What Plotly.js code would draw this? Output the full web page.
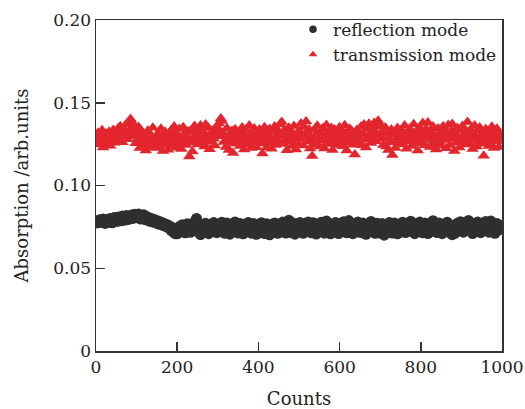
<!DOCTYPE html>
<html>
<head>
<meta charset="utf-8">
<script src="https://cdn.plot.ly/plotly-3.0.1.min.js"></script>
<style>
html,body{margin:0;padding:0;background:#fff;}
#chart{width:525px;height:409px;}
</style>
</head>
<body>
<div id="chart"></div>
<script>
// sampling step of the counts axis
const countStep = 2.5;

// reflection mode absorption (arb. units), one value per sample
const reflection = [
0.0781,0.0774,0.0788,0.0779,0.0793,0.0776,0.0785,0.0798,0.0782,0.0771,0.0790,0.0784,0.0796,0.0778,0.0801,0.0787,0.0775,0.0794,0.0806,0.0789,
0.0797,0.0783,0.0810,0.0792,0.0804,0.0787,0.0815,0.0799,0.0808,0.0791,0.0818,0.0803,0.0795,0.0812,0.0806,0.0821,0.0800,0.0814,0.0826,0.0809,
0.0819,0.0805,0.0828,0.0811,0.0797,0.0816,0.0802,0.0823,0.0808,0.0793,0.0812,0.0796,0.0786,0.0804,0.0790,0.0781,0.0798,0.0785,0.0776,0.0791,
0.0779,0.0768,0.0784,0.0772,0.0763,0.0777,0.0759,0.0770,0.0755,0.0766,0.0748,0.0761,0.0743,0.0754,0.0729,0.0745,0.0718,0.0736,0.0709,0.0724,
0.0708,0.0731,0.0752,0.0719,0.0741,0.0763,0.0727,0.0750,0.0714,0.0738,0.0769,0.0732,0.0756,0.0717,0.0745,0.0771,0.0729,0.0766,0.0784,0.0801,
0.0779,0.0735,0.0712,0.0704,0.0738,0.0758,0.0716,0.0743,0.0772,0.0726,0.0751,0.0709,0.0739,0.0765,0.0722,0.0748,0.0776,0.0731,0.0757,0.0715,
0.0744,0.0768,0.0721,0.0750,0.0778,0.0729,0.0759,0.0711,0.0746,0.0773,0.0727,0.0755,0.0706,0.0740,0.0767,0.0724,0.0752,0.0780,0.0733,0.0761,
0.0713,0.0745,0.0771,0.0726,0.0757,0.0708,0.0739,0.0766,0.0720,0.0749,0.0777,0.0731,0.0760,0.0712,0.0742,0.0770,0.0723,0.0754,0.0705,0.0737,
0.0763,0.0716,0.0748,0.0775,0.0730,0.0758,0.0710,0.0741,0.0769,0.0722,0.0751,0.0702,0.0735,0.0764,0.0718,0.0746,0.0774,0.0728,0.0756,0.0711,
0.0740,0.0768,0.0719,0.0750,0.0779,0.0732,0.0761,0.0713,0.0743,0.0782,0.0790,0.0754,0.0715,0.0747,0.0773,0.0725,0.0706,0.0742,0.0769,0.0721,
0.0752,0.0776,0.0727,0.0758,0.0711,0.0744,0.0771,0.0723,0.0753,0.0780,0.0734,0.0762,0.0714,0.0746,0.0775,0.0726,0.0755,0.0707,0.0740,0.0767,
0.0720,0.0749,0.0778,0.0731,0.0760,0.0712,0.0743,0.0786,0.0770,0.0724,0.0753,0.0708,0.0738,0.0766,0.0717,0.0748,0.0777,0.0729,0.0757,0.0710,
0.0742,0.0771,0.0722,0.0753,0.0781,0.0733,0.0762,0.0714,0.0746,0.0788,0.0774,0.0725,0.0755,0.0709,0.0739,0.0768,0.0719,0.0750,0.0779,0.0730,
0.0759,0.0716,0.0745,0.0773,0.0727,0.0756,0.0705,0.0738,0.0767,0.0721,0.0751,0.0783,0.0764,0.0728,0.0754,0.0711,0.0741,0.0772,0.0723,0.0757,
0.0712,0.0740,0.0770,0.0724,0.0700,0.0731,0.0758,0.0715,0.0747,0.0776,0.0729,0.0761,0.0713,0.0744,0.0773,0.0726,0.0755,0.0708,0.0737,0.0766,
0.0719,0.0749,0.0778,0.0732,0.0763,0.0716,0.0745,0.0771,0.0724,0.0754,0.0784,0.0768,0.0721,0.0750,0.0709,0.0739,0.0770,0.0727,0.0758,0.0779,
0.0734,0.0762,0.0714,0.0745,0.0774,0.0728,0.0757,0.0710,0.0741,0.0770,0.0723,0.0753,0.0787,0.0776,0.0731,0.0761,0.0716,0.0746,0.0773,0.0725,
0.0755,0.0709,0.0739,0.0768,0.0720,0.0750,0.0778,0.0733,0.0763,0.0714,0.0744,0.0703,0.0729,0.0758,0.0712,0.0742,0.0772,0.0726,0.0754,0.0781,
0.0737,0.0766,0.0718,0.0748,0.0777,0.0730,0.0759,0.0789,0.0771,0.0724,0.0753,0.0710,0.0741,0.0769,0.0722,0.0751,0.0779,0.0733,0.0762,0.0715,
0.0745,0.0774,0.0727,0.0757,0.0782,0.0736,0.0765,0.0718,0.0749,0.0785,0.0770,0.0723,0.0752,0.0711,0.0740,0.0771,0.0729,0.0760,0.0738,0.0748
];

// transmission mode absorption (arb. units), one value per sample
const transmission = [
0.1285,0.1262,0.1318,0.1247,0.1301,0.1275,0.1334,0.1229,0.1296,0.1268,0.1312,0.1251,0.1289,0.1325,0.1240,0.1304,0.1278,0.1336,0.1259,0.1293,
0.1321,0.1270,0.1347,0.1286,0.1358,0.1305,0.1262,0.1339,0.1291,0.1366,0.1317,0.1279,0.1384,0.1328,0.1402,0.1345,0.1298,0.1371,0.1312,0.1256,
0.1336,0.1281,0.1354,0.1227,0.1302,0.1265,0.1319,0.1243,0.1290,0.1212,0.1276,0.1331,0.1258,0.1307,0.1234,0.1283,0.1349,0.1271,0.1226,0.1295,
0.1252,0.1314,0.1237,0.1288,0.1343,0.1261,0.1209,0.1297,0.1325,0.1246,0.1279,0.1216,0.1305,0.1268,0.1332,0.1241,0.1294,0.1357,0.1273,0.1228,
0.1309,0.1256,0.1341,0.1283,0.1221,0.1298,0.1352,0.1269,0.1317,0.1244,0.1287,0.1326,0.1175,0.1262,0.1334,0.1206,0.1291,0.1359,0.1277,0.1313,
0.1248,0.1339,0.1286,0.1362,0.1301,0.1257,0.1323,0.1235,0.1368,0.1294,0.1272,0.1348,0.1219,0.1306,0.1265,0.1329,0.1282,0.1242,0.1315,0.1356,
0.1297,0.1374,0.1325,0.1405,0.1389,0.1318,0.1263,0.1301,0.1232,0.1346,0.1276,0.1214,0.1308,0.1259,0.1331,0.1196,0.1287,0.1340,0.1253,0.1312,
0.1268,0.1327,0.1239,0.1295,0.1351,0.1274,0.1218,0.1303,0.1337,0.1249,0.1292,0.1363,0.1281,0.1226,0.1316,0.1260,0.1344,0.1288,0.1231,0.1309,
0.1276,0.1338,0.1254,0.1321,0.1193,0.1285,0.1352,0.1267,0.1230,0.1311,0.1258,0.1342,0.1289,0.1222,0.1324,0.1271,0.1356,0.1245,0.1298,0.1333,
0.1263,0.1368,0.1302,0.1384,0.1319,0.1251,0.1337,0.1280,0.1213,0.1307,0.1349,0.1266,0.1325,0.1238,0.1294,0.1360,0.1277,0.1218,0.1314,0.1256,
0.1329,0.1283,0.1375,0.1310,0.1242,0.1353,0.1296,0.1387,0.1322,0.1264,0.1338,0.1224,0.1291,0.1178,0.1269,0.1335,0.1247,0.1306,0.1361,0.1279,
0.1236,0.1318,0.1271,0.1345,0.1289,0.1223,0.1304,0.1366,0.1260,0.1327,0.1251,0.1293,0.1348,0.1215,0.1282,0.1339,0.1268,0.1319,0.1244,0.1301,
0.1352,0.1273,0.1326,0.1237,0.1299,0.1364,0.1284,0.1211,0.1316,0.1258,0.1343,0.1279,0.1330,0.1246,0.1308,0.1188,0.1274,0.1336,0.1262,0.1321,
0.1287,0.1355,0.1243,0.1312,0.1369,0.1276,0.1229,0.1341,0.1294,0.1373,0.1316,0.1257,0.1346,0.1290,0.1378,0.1324,0.1267,0.1357,0.1391,0.1305,
0.1366,0.1282,0.1327,0.1245,0.1303,0.1351,0.1236,0.1292,0.1214,0.1319,0.1270,0.1338,0.1184,0.1261,0.1309,0.1227,0.1285,0.1347,0.1253,0.1316,
0.1271,0.1334,0.1248,0.1306,0.1362,0.1280,0.1222,0.1325,0.1266,0.1343,0.1293,0.1239,0.1317,0.1370,0.1284,0.1255,0.1331,0.1211,0.1298,0.1349,
0.1263,0.1322,0.1377,0.1295,0.1243,0.1340,0.1286,0.1380,0.1308,0.1232,0.1327,0.1274,0.1356,0.1251,0.1301,0.1217,0.1289,0.1344,0.1268,0.1319,
0.1240,0.1296,0.1358,0.1275,0.1331,0.1225,0.1307,0.1365,0.1283,0.1244,0.1328,0.1371,0.1296,0.1209,0.1313,0.1260,0.1347,0.1292,0.1229,0.1336,
0.1277,0.1359,0.1304,0.1247,0.1323,0.1270,0.1383,0.1315,0.1256,0.1338,0.1290,0.1221,0.1306,0.1362,0.1279,0.1235,0.1329,0.1267,0.1350,0.1297,
0.1252,0.1318,0.1180,0.1284,0.1341,0.1263,0.1311,0.1239,0.1332,0.1278,0.1355,0.1294,0.1226,0.1320,0.1266,0.1343,0.1289,0.1233,0.1308,0.1272
];

const seriesNames = ["reflection mode", "transmission mode"];
const seriesColors = ["#2f2f2f", "#e3262d"];
const seriesSymbols = ["circle", "triangle-up"];

const xTickVals = [0, 200, 400, 600, 800, 1000];
const xTickText = ["0", "200", "400", "600", "800", "1000"];
const yTickVals = [0, 0.05, 0.10, 0.15, 0.20];
const yTickText = ["0", "0.05", "0.10", "0.15", "0.20"];

const countsR = reflection.map((_, i) => i * countStep);
const countsT = transmission.map((_, i) => i * countStep);

const FONT = "DejaVu Serif, serif";

const traces = [
  {
    x: countsR, y: reflection, type: "scatter", mode: "markers",
    name: seriesNames[0], showlegend: false, legendgroup: "r",
    marker: {symbol: seriesSymbols[0], size: 11, color: seriesColors[0]}
  },
  {
    x: countsT, y: transmission, type: "scatter", mode: "markers",
    name: seriesNames[1], showlegend: false, legendgroup: "t",
    marker: {symbol: seriesSymbols[1], size: 11, color: seriesColors[1]}
  },
  // legend-only entries (smaller legend symbols, as in the original)
  {
    x: [null], y: [null], type: "scatter", mode: "markers",
    name: seriesNames[0], legendgroup: "r",
    marker: {symbol: seriesSymbols[0], size: 7.5, color: seriesColors[0]}
  },
  {
    x: [null], y: [null], type: "scatter", mode: "markers",
    name: seriesNames[1], legendgroup: "t",
    marker: {symbol: seriesSymbols[1], size: 7.5, color: seriesColors[1]}
  }
];

const layout = {
  width: 525, height: 409,
  margin: {l: 96, r: 23, t: 18, b: 58},
  paper_bgcolor: "#fff", plot_bgcolor: "#fff",
  font: {family: FONT, size: 17, color: "#222"},
  showlegend: true,
  legend: {
    x: 1.0, y: 1.025, xanchor: "right", yanchor: "top",
    bgcolor: "rgba(0,0,0,0)", borderwidth: 0, tracegroupgap: 0,
    font: {family: FONT, size: 17, color: "#222"},
    itemsizing: "trace"
  },
  xaxis: {
    range: [0, 1000],
    tickmode: "array", tickvals: xTickVals, ticktext: xTickText,
    ticks: "inside", ticklen: 9, tickwidth: 1.5, tickcolor: "#333",
    showline: true, linecolor: "#333", linewidth: 1.5, mirror: true,
    showgrid: false, zeroline: false,
    tickfont: {family: FONT, size: 17, color: "#222"},
    title: {text: "Counts", font: {family: FONT, size: 18, color: "#222"}, standoff: 20}
  },
  yaxis: {
    range: [0, 0.20],
    tickmode: "array", tickvals: yTickVals, ticktext: yTickText,
    ticks: "inside", ticklen: 9, tickwidth: 1.5, tickcolor: "#333",
    showline: true, linecolor: "#333", linewidth: 1.5, mirror: true,
    showgrid: false, zeroline: false,
    tickfont: {family: FONT, size: 17, color: "#222"},
    title: {text: "Absorption /arb.units", font: {family: FONT, size: 18, color: "#222"}, standoff: 20}
  }
};

Plotly.newPlot("chart", traces, layout, {displayModeBar: false, staticPlot: true});
</script>
</body>
</html>
